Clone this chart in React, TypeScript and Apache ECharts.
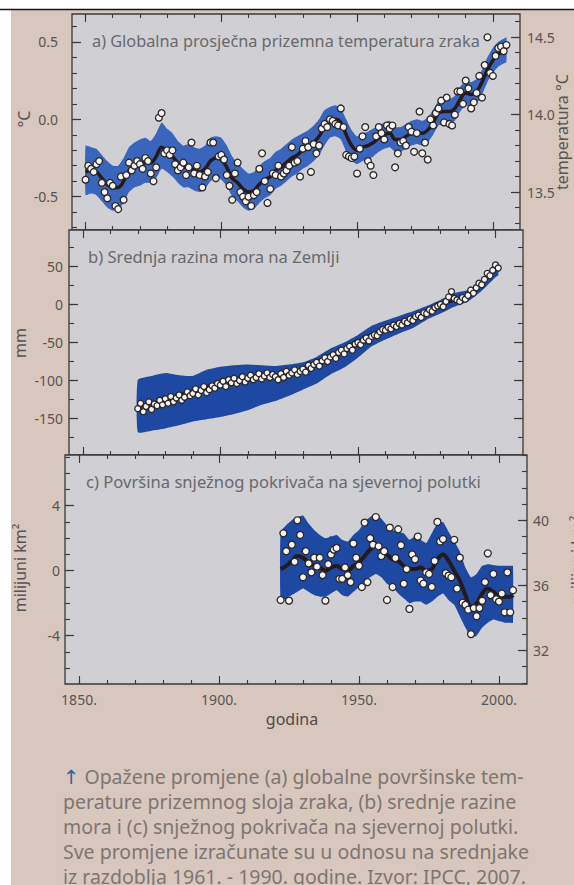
import React, { useEffect, useRef } from "react";
import * as echarts from "echarts";

// ---------- axes ----------
const X_MIN = 1845;
const X_MAX = 2010;
const minorYears = [1850, 1860, 1870, 1880, 1890, 1900, 1910, 1920, 1930, 1940, 1950, 1960, 1970, 1980, 1990, 2000];
const majorYears = [1850, 1900, 1950, 2000];

const tempLeftMajor = [-0.5, 0, 0.5];
const tempLeftMinor = [-0.7, -0.6, -0.5, -0.4, -0.3, -0.2, -0.1, 0, 0.1, 0.2, 0.3, 0.4, 0.5, 0.6];
const tempRightMajor = [13.5, 14.0, 14.5];
const tempRightMinor = [13.3, 13.4, 13.5, 13.6, 13.7, 13.8, 13.9, 14.0, 14.1, 14.2, 14.3, 14.4, 14.5, 14.6];
const seaMajor = [-150, -100, -50, 0, 50];
const seaMinor = [-175, -150, -125, -100, -75, -50, -25, 0, 25, 50, 75];
const snowLeftMajor = [-4, 0, 4];
const snowLeftMinor = [-6, -5, -4, -3, -2, -1, 0, 1, 2, 3, 4, 5, 6, 7];
const snowRightMajor = [32, 36, 40];
const snowRightMinor = [30, 31, 32, 33, 34, 35, 36, 37, 38, 39, 40, 41, 42, 43, 44];

// ---------- a) temperature ----------
const tempStartYear = 1850;
const tempAnnual = [
  -0.39, -0.30, -0.32, -0.34, -0.29, -0.27, -0.41, -0.47, -0.51, -0.41,
  -0.43, -0.56, -0.58, -0.37, -0.52, -0.36, -0.28, -0.33, -0.30, -0.27,
  -0.29, -0.32, -0.25, -0.27, -0.35, -0.40, -0.31, 0.01, 0.04, -0.22,
  -0.20, -0.23, -0.20, -0.29, -0.33, -0.31, -0.28, -0.36, -0.31, -0.15,
  -0.35, -0.30, -0.36, -0.44, -0.37, -0.34, -0.15, -0.15, -0.38, -0.24,
  -0.23, -0.26, -0.36, -0.43, -0.52, -0.35, -0.28, -0.47, -0.50, -0.53,
  -0.50, -0.56, -0.49, -0.47, -0.32, -0.22, -0.40, -0.54, -0.45, -0.35,
  -0.36, -0.30, -0.37, -0.35, -0.33, -0.30, -0.18, -0.28, -0.27, -0.37,
  -0.19, -0.14, -0.18, -0.34, -0.16, -0.22, -0.17, -0.06, -0.03, -0.05,
  0.00, -0.01, -0.03, -0.04, 0.07, -0.05, -0.23, -0.24, -0.25, -0.24,
  -0.35, -0.19, -0.11, -0.05, -0.27, -0.30, -0.36, -0.11, -0.05, -0.09,
  -0.13, -0.04, -0.06, -0.04, -0.31, -0.22, -0.15, -0.14, -0.17, -0.05,
  -0.08, -0.21, -0.09, 0.05, -0.22, -0.15, -0.26, 0.00, -0.04, 0.04,
  0.07, 0.12, -0.02, 0.14, -0.03, -0.04, 0.03, 0.18, 0.18, 0.10,
  0.25, 0.20, 0.07, 0.11, 0.17, 0.28, 0.14, 0.35, 0.53, 0.30,
  0.28, 0.41, 0.46, 0.47, 0.44, 0.48,
];
const tempSmoothYears = [
  1850, 1852, 1854, 1856, 1858, 1860, 1862, 1864, 1866, 1868,
  1870, 1872, 1874, 1876, 1878, 1880, 1882, 1884, 1886, 1888,
  1890, 1892, 1894, 1896, 1898, 1900, 1902, 1904, 1906, 1908,
  1910, 1912, 1914, 1916, 1918, 1920, 1922, 1924, 1926, 1928,
  1930, 1932, 1934, 1936, 1938, 1940, 1942, 1944, 1946, 1948,
  1950, 1952, 1954, 1956, 1958, 1960, 1962, 1964, 1966, 1968,
  1970, 1972, 1974, 1976, 1978, 1980, 1982, 1984, 1986, 1988,
  1990, 1992, 1994, 1996, 1998, 2000, 2002, 2004, 2005,
];
const tempSmooth = [
  -0.34, -0.33, -0.34, -0.38, -0.42, -0.44, -0.44, -0.40, -0.33, -0.30,
  -0.29, -0.28, -0.28, -0.24, -0.18, -0.21, -0.24, -0.28, -0.31, -0.31,
  -0.33, -0.34, -0.32, -0.27, -0.25, -0.26, -0.31, -0.38, -0.41, -0.45,
  -0.47, -0.46, -0.42, -0.39, -0.37, -0.33, -0.31, -0.28, -0.25, -0.23,
  -0.20, -0.18, -0.15, -0.11, -0.05, -0.01, 0.00, -0.02, -0.10, -0.17,
  -0.20, -0.18, -0.17, -0.15, -0.12, -0.10, -0.09, -0.13, -0.13, -0.11,
  -0.09, -0.08, -0.09, -0.07, -0.02, 0.04, 0.05, 0.05, 0.07, 0.13,
  0.17, 0.16, 0.18, 0.24, 0.32, 0.38, 0.42, 0.44, 0.45,
];
const tempLow = [
  -0.49, -0.48, -0.49, -0.53, -0.57, -0.59, -0.58, -0.54, -0.47, -0.44,
  -0.43, -0.41, -0.41, -0.38, -0.32, -0.34, -0.37, -0.41, -0.44, -0.44,
  -0.46, -0.47, -0.45, -0.40, -0.38, -0.39, -0.43, -0.50, -0.53, -0.57,
  -0.59, -0.58, -0.54, -0.51, -0.49, -0.45, -0.43, -0.40, -0.37, -0.35,
  -0.32, -0.30, -0.27, -0.23, -0.17, -0.12, -0.11, -0.13, -0.21, -0.27,
  -0.29, -0.27, -0.26, -0.24, -0.21, -0.19, -0.18, -0.21, -0.21, -0.19,
  -0.17, -0.16, -0.17, -0.15, -0.10, -0.04, -0.03, -0.03, -0.01, 0.05,
  0.09, 0.08, 0.10, 0.16, 0.24, 0.30, 0.34, 0.36, 0.37,
];
const tempHigh = [
  -0.17, -0.18, -0.19, -0.23, -0.27, -0.30, -0.30, -0.25, -0.18, -0.15,
  -0.13, -0.12, -0.14, -0.09, -0.02, -0.06, -0.09, -0.14, -0.17, -0.16,
  -0.18, -0.19, -0.17, -0.12, -0.11, -0.12, -0.17, -0.24, -0.28, -0.32,
  -0.35, -0.34, -0.30, -0.27, -0.25, -0.21, -0.19, -0.16, -0.13, -0.11,
  -0.09, -0.07, -0.04, 0.00, 0.06, 0.08, 0.09, 0.07, 0.00, -0.07,
  -0.11, -0.09, -0.08, -0.06, -0.04, -0.02, -0.01, -0.05, -0.05, -0.03,
  -0.01, 0.00, -0.01, 0.01, 0.06, 0.12, 0.13, 0.13, 0.15, 0.21,
  0.25, 0.24, 0.26, 0.32, 0.40, 0.46, 0.50, 0.52, 0.53,
];

// ---------- b) sea level ----------
const seaStartYear = 1870;
const seaAnnual = [
  -137, -130, -141, -134, -128, -138, -131, -133, -126, -132,
  -124, -130, -121, -128, -123, -119, -126, -122, -115, -120,
  -117, -111, -119, -113, -108, -116, -112, -107, -110, -104,
  -106, -101, -108, -99, -103, -97, -104, -100, -95, -102,
  -97, -93, -99, -96, -91, -98, -94, -90, -96, -92,
  -95, -99, -91, -96, -88, -93, -90, -86, -92, -88,
  -85, -89, -80, -84, -79, -76, -81, -74, -70, -75,
  -69, -66, -71, -63, -60, -65, -58, -55, -60, -52,
  -50, -53, -47, -44, -48, -42, -40, -41, -36, -33,
  -34, -30, -32, -27, -29, -25, -27, -22, -24, -19,
  -21, -16, -14, -17, -11, -12, -7, -9, -4, -2,
  0, -3, 4, 10, 17, 8, 6, 4, 9, 7,
  12, 19, 15, 22, 28, 26, 33, 41, 38, 45,
  52, 48,
];
const seaBandYears = [1870, 1875, 1880, 1885, 1890, 1895, 1900, 1905, 1910, 1915, 1920, 1925, 1930, 1935, 1940, 1945, 1950, 1955, 1960, 1965, 1970, 1975, 1980, 1985, 1990, 1995, 2000, 2001];
const seaLow = [-168, -166, -163, -159, -154, -151, -148, -144, -139, -132, -127, -120, -112, -104, -92, -83, -70, -55, -46, -38, -31, -20, -12, -3, 4, 18, 36, 38];
const seaHigh = [-99, -94, -90, -93, -94, -86, -82, -80, -79, -80, -81, -79, -76, -69, -58, -50, -40, -28, -21, -15, -9, -2, 6, 15, 19, 32, 54, 56];
const seaSmoothYears = [1870, 1880, 1890, 1900, 1910, 1920, 1930, 1940, 1950, 1960, 1970, 1980, 1990, 2000, 2001];
const seaSmooth = [-135, -125, -113, -103, -96, -93, -86, -68, -48, -31, -16, 0, 12, 47, 50];

// ---------- c) snow cover ----------
const snowStartYear = 1922;
const snowAnnual = [
  -1.8, 2.3, 1.2, -1.84, 1.6, 0.55, 3.1, 2.2, -0.4, 1.2,
  0.45, -0.1, 0.8, 0.25, 0.8, -0.27, -1.84, 0.4, 1.0, 1.3,
  1.4, -0.5, -0.5, 0.2, -0.27, -0.7, 1.67, 0.8, 0.3, -1.0,
  2.96, -0.7, 2.0, 1.6, 3.3, 1.5, 0.9, 1.2, -1.8, 2.65,
  -1.0, 0.78, 2.55, 1.57, -0.8, 0.1, -2.35, 1.0, 0.7, 2.1,
  -0.6, -0.8, -0.1, -0.2, -1.0, 0.6,
  3.0, 1.8, 1.95, -0.15, -0.3, -0.4, 1.9, -1.1, 0.8, -1.97,
  -2.1, -2.4, -3.9, -2.3, -2.8, -2.3, -1.85, -0.7, 1.07, -1.5,
  -0.2, -1.76, -1.9, -1.4, -2.56, -0.1, -2.56, -1.2,
];
const snowSmoothYears = [
  1922, 1924, 1926, 1928, 1930, 1932, 1934, 1936, 1938, 1940,
  1942, 1944, 1946, 1948, 1950, 1952, 1954, 1956, 1958, 1960,
  1962, 1964, 1966, 1968, 1970, 1972, 1974, 1976, 1978, 1980,
  1982, 1984, 1986, 1988, 1990, 1992, 1994, 1996, 1998, 2000,
  2002, 2004, 2005,
];
const snowSmooth = [
  0.1, 0.3, 0.6, 0.9, 0.8, 0.5, 0.3, 0.2, 0.0, 0.2,
  0.3, 0.1, 0.0, 0.3, 0.5, 0.9, 1.3, 1.5, 1.3, 1.0,
  0.7, 0.6, 0.3, 0.1, 0.1, 0.2, 0.0, 0.1, 0.7, 1.0,
  0.6, 0.0, -0.6, -1.5, -2.2, -2.0, -1.4, -1.1, -1.3, -1.6,
  -1.6, -1.6, -1.5,
];
const snowLow = [
  -1.9, -1.7, -1.5, -1.3, -1.1, -1.3, -1.5, -1.6, -1.6, -1.4,
  -1.2, -1.5, -1.6, -1.3, -1.0, -0.7, -0.4, -0.2, -0.4, -0.8,
  -1.0, -1.4, -1.7, -2.0, -1.9, -1.9, -2.1, -1.9, -1.6, -1.4,
  -1.8, -2.1, -2.8, -3.5, -4.1, -4.0, -3.5, -3.2, -3.0, -3.1,
  -3.2, -3.2, -3.2,
];
const snowHigh = [
  2.4, 2.8, 3.1, 3.3, 3.4, 2.9, 2.5, 2.2, 2.0, 2.1,
  2.2, 1.9, 1.8, 2.2, 2.5, 3.0, 3.3, 3.5, 3.2, 2.8,
  2.5, 2.4, 2.3, 1.9, 2.1, 1.9, 1.7, 2.3, 2.9, 3.0,
  2.4, 1.8, 1.2, 0.2, -0.4, -0.2, 0.3, 0.4, 0.35, 0.3,
  0.3, 0.3, 0.3,
];

// ---------- texts ----------
const panelTitles = [
  "a) Globalna prosječna prizemna temperatura zraka",
  "b) Srednja razina mora na Zemlji",
  "c) Površina snježnog pokrivača na sjevernoj polutki",
];
const captionLines = [
  "{a|↑} Opažene promjene (a) globalne površinske tem-",
  "perature prizemnog sloja zraka, (b) srednje razine",
  "mora i (c) snježnog pokrivača na sjevernoj polutki.",
  "Sve promjene izračunate su u odnosu na srednjake",
  "iz razdoblja 1961. - 1990. godine. Izvor: IPCC, 2007.",
];

// ---------- style ----------
const FONT = "'Noto Sans', 'DejaVu Sans', sans-serif";
const PAGE = "#d7c7bd";
const PLOT = "#cfcfd4";
const FRAME = "#3b3838";
const LABEL = "#585452";
const TITLE = "#69696c";
const CAPTION = "#7d7673";
const BAND_A = "#3a65bd";
const BAND_BC = "#1d49a3";
const LINE = "#27191b";

const grids = [
  { left: 72, top: 14, width: 448, height: 216 },
  { left: 69, top: 230, width: 454, height: 225 },
  { left: 65, top: 455, width: 462, height: 229 },
];
const yRanges = [
  { min: -0.715, max: 0.68, rmin: 13.255, rmax: 14.65 },
  { min: -198, max: 98, rmin: -198, rmax: 98 },
  { min: -6.97, max: 7.12, rmin: 29.93, rmax: 44.02 },
];

function xAxesFor(g: number, withLabels: boolean) {
  const base: any = {
    type: "value", gridIndex: g, min: X_MIN, max: X_MAX,
    axisLine: { show: false, onZero: false }, splitLine: { show: false },
  };
  const tick = (vals: number[], len: number) => ({
    show: true, inside: true, length: len, customValues: vals,
    lineStyle: { color: FRAME, width: 1.1 },
  });
  return [
    { ...base, position: "bottom", axisTick: tick(minorYears, 4), axisLabel: { show: false } },
    {
      ...base, position: "bottom", axisTick: tick(majorYears, 8),
      axisLabel: withLabels
        ? { show: true, customValues: majorYears, formatter: (v: number) => v + ".", margin: 8, color: LABEL, fontSize: 14, fontFamily: FONT }
        : { show: false },
    },
    { ...base, position: "top", axisTick: tick(minorYears, 4), axisLabel: { show: false } },
    { ...base, position: "top", axisTick: tick(majorYears, 8), axisLabel: { show: false } },
  ];
}

function yPair(g: number, min: number, max: number, minor: number[], major: number[], position: string, label: any) {
  const base: any = {
    type: "value", gridIndex: g, min, max, position,
    axisLine: { show: false, onZero: false }, splitLine: { show: false },
  };
  return [
    { ...base, axisTick: { show: true, inside: true, length: 5, customValues: minor, lineStyle: { color: FRAME, width: 1.1 } }, axisLabel: { show: false } },
    {
      ...base,
      axisTick: { show: true, inside: true, length: 9, customValues: major, lineStyle: { color: FRAME, width: 1.2 } },
      axisLabel: label
        ? { show: true, customValues: major, formatter: label.fmt, margin: label.margin, color: LABEL, fontSize: 14, fontFamily: FONT }
        : { show: false },
    },
  ];
}

function bandSeries(g: number, years: number[], low: number[], high: number[], color: string) {
  return {
    type: "custom", xAxisIndex: g * 4, yAxisIndex: g * 4, z: 1, silent: true, clip: true,
    data: [[years[0], low[0]]],
    renderItem: (_params: any, api: any) => {
      const pts: number[][] = [];
      for (let i = 0; i < years.length; i++) pts.push(api.coord([years[i], high[i]]));
      for (let i = years.length - 1; i >= 0; i--) pts.push(api.coord([years[i], low[i]]));
      return { type: "polygon", shape: { points: pts, smooth: 0.15 }, style: { fill: color, stroke: null } };
    },
  };
}

function smoothLine(g: number, years: number[], vals: number[], width: number) {
  return {
    type: "line", xAxisIndex: g * 4, yAxisIndex: g * 4, symbol: "none", smooth: 0.4, z: 2, silent: true,
    lineStyle: { color: LINE, width }, data: years.map((y, i) => [y, vals[i]]),
  };
}

function dots(g: number, start: number, vals: number[], size: number) {
  return {
    type: "scatter", xAxisIndex: g * 4, yAxisIndex: g * 4, z: 3, silent: true, symbolSize: size,
    itemStyle: { color: "#f6f4f0", borderColor: "#2c2626", borderWidth: 1.3, opacity: 1 },
    data: vals.map((v, i) => [start + i, v]),
  };
}

function txt(x: number, y: number, text: string, opts: any = {}) {
  return {
    type: "text", x, y, rotation: opts.rotation || 0, silent: true, z: 10,
    style: {
      text, fill: opts.fill || LABEL, fontSize: opts.fontSize || 16, fontFamily: FONT,
      textAlign: opts.align || "center", align: opts.align || "center",
      textVerticalAlign: "middle", verticalAlign: "middle",
      rich: opts.rich,
    },
  };
}

function buildOption() {
  const xAxis = [...xAxesFor(0, false), ...xAxesFor(1, false), ...xAxesFor(2, true)];
  const f1 = (v: number) => v.toFixed(1);
  const f0 = (v: number) => String(v);
  const yAxis = [
    ...yPair(0, yRanges[0].min, yRanges[0].max, tempLeftMinor, tempLeftMajor, "left", { fmt: f1, margin: 14 }),
    ...yPair(0, yRanges[0].rmin, yRanges[0].rmax, tempRightMinor, tempRightMajor, "right", { fmt: f1, margin: 7 }),
    ...yPair(1, yRanges[1].min, yRanges[1].max, seaMinor, seaMajor, "left", { fmt: f0, margin: 6 }),
    ...yPair(1, yRanges[1].rmin, yRanges[1].rmax, seaMinor, seaMajor, "right", null),
    ...yPair(2, yRanges[2].min, yRanges[2].max, snowLeftMinor, snowLeftMajor, "left", { fmt: f0, margin: 5 }),
    ...yPair(2, yRanges[2].rmin, yRanges[2].rmax, snowRightMinor, snowRightMajor, "right", { fmt: f0, margin: 6 }),
  ];
  const series = [
    bandSeries(0, tempSmoothYears, tempLow, tempHigh, BAND_A),
    smoothLine(0, tempSmoothYears, tempSmooth, 3.5),
    dots(0, tempStartYear, tempAnnual, 6.8),
    bandSeries(1, seaBandYears, seaLow, seaHigh, BAND_BC),
    smoothLine(1, seaSmoothYears, seaSmooth, 2.5),
    dots(1, seaStartYear, seaAnnual, 6),
    bandSeries(2, snowSmoothYears, snowLow, snowHigh, BAND_BC),
    smoothLine(2, snowSmoothYears, snowSmooth, 4),
    dots(2, snowStartYear, snowAnnual, 7),
  ];
  const R = Math.PI / 2;
  const graphic = [
    { type: "rect", shape: { x: 0, y: 0, width: 574, height: 9 }, style: { fill: "#ffffff" }, silent: true },
    { type: "rect", shape: { x: 0, y: 0, width: 11, height: 885 }, style: { fill: "#ffffff" }, silent: true },
    { type: "line", shape: { x1: 0, y1: 9.5, x2: 574, y2: 9.5 }, style: { stroke: "#151515", lineWidth: 1.6 }, silent: true },
    txt(92, 41, panelTitles[0], { align: "left", fill: TITLE, fontSize: 16.3 }),
    txt(88, 256, panelTitles[1], { align: "left", fill: TITLE, fontSize: 16.6 }),
    txt(86, 481, panelTitles[2], { align: "left", fill: TITLE, fontSize: 16.6 }),
    txt(24, 119, "°C", { rotation: R }),
    txt(562, 132, "temperatura °C", { rotation: R }),
    txt(20, 343, "mm", { rotation: R }),
    txt(20, 568, "milijuni km²", { rotation: R }),
    txt(577, 560, "milijuni km²", { rotation: R }),
    txt(292, 719, "godina", { fill: "#4f4b49" }),
    ...captionLines.map((l, i) =>
      txt(63, 776 + i * 25, l, { align: "left", fill: CAPTION, fontSize: 19.5, rich: { a: { fill: "#3d5da6", fontSize: 19.5, fontFamily: FONT } } })
    ),
  ];
  return {
    animation: false,
    backgroundColor: PAGE,
    grid: grids.map((g) => ({ ...g, show: true, backgroundColor: PLOT, borderColor: FRAME, borderWidth: 1.3, containLabel: false })),
    xAxis, yAxis, series, graphic,
  };
}

export default function App() {
  const ref = useRef<HTMLDivElement>(null);
  useEffect(() => {
    const chart = echarts.init(ref.current as HTMLDivElement, null, { renderer: "svg" });
    chart.setOption(buildOption() as any);
    return () => chart.dispose();
  }, []);
  return <div ref={ref} style={{ position: "absolute", left: 0, top: 0, width: 574, height: 885 }} />;
}
